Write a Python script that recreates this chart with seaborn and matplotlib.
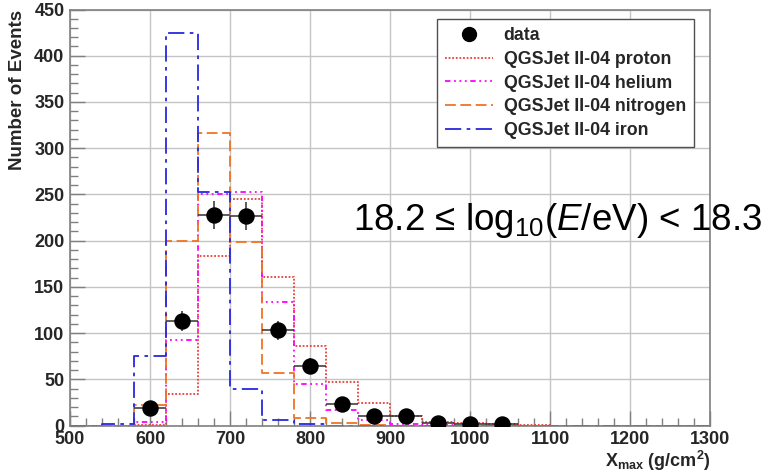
import numpy as np
import matplotlib
matplotlib.use("Agg")
import matplotlib.pyplot as plt
from matplotlib.ticker import MultipleLocator
from matplotlib.lines import Line2D
import seaborn as sns

# ---------------- data ----------------
bin_edges = list(range(500, 1301, 40))
bin_centers = [e + 20 for e in bin_edges[:-1]]

#                 500 540 580  620  660  700  740  780  820 860 900 940 980 1020 1060 ...
proton   = [0, 0, 1, 34, 183, 245, 161, 86, 47, 25, 11, 4, 3, 2, 1, 0, 0, 0, 0, 0]
helium   = [0, 0, 4, 93, 250, 253, 134, 45, 17, 6, 2, 1, 0, 0, 0, 0, 0, 0, 0, 0]
nitrogen = [0, 0, 22, 200, 316, 199, 57, 8, 3, 1, 0, 0, 0, 0, 0, 0, 0, 0, 0, 0]
iron     = [0, 2, 75, 425, 253, 40, 6, 2, 0, 0, 0, 0, 0, 0, 0, 0, 0, 0, 0, 0]

data_x   = [600, 640, 680, 720, 760, 800, 840, 880, 920, 960, 1000, 1040]
data_y   = [19, 113, 228, 227, 103, 65, 24, 11, 10, 3, 2, 2]
data_err = [4.4, 10.6, 15.1, 15.1, 10.1, 8.1, 4.9, 3.3, 3.2, 1.7, 1.4, 1.4]

legend_labels = ["data", "QGSJet II-04 proton", "QGSJet II-04 helium",
                 "QGSJet II-04 nitrogen", "QGSJet II-04 iron"]
annotation = r"18.2 ≤ log$_{10}$($E$/eV) < 18.3"
xlabel = r"X$_{\mathbf{max}}$ (g/cm$^{\mathbf{2}}$)"
ylabel = "Number of Events"

# ---------------- style ----------------
sns.set_theme(style="white")
plt.rcParams["font.family"] = ["Liberation Sans", "DejaVu Sans"]
plt.rcParams["mathtext.fontset"] = "custom"
plt.rcParams["mathtext.rm"] = "Liberation Sans"
plt.rcParams["mathtext.it"] = "Liberation Sans:italic"
plt.rcParams["mathtext.bf"] = "Liberation Sans:bold"

fig = plt.figure(figsize=(7.69, 4.75), dpi=100)
ax = fig.add_axes([70 / 769, (475 - 425.7) / 475, 640 / 769, 416.2 / 475])

ax.grid(True, which="major", color="#c4c4c4", linewidth=1.0)
ax.set_axisbelow(True)

series = [
    (proton, "#e8403a", (0, (1, 1)), legend_labels[1]),
    (helium, "#ff00ff", (0, (3, 2, 1, 2, 1, 2, 1, 2)), legend_labels[2]),
    (nitrogen, "#f07424", (0, (6, 2.5)), legend_labels[3]),
    (iron, "#2828e0", (0, (9, 3, 2, 3)), legend_labels[4]),
]
handles = []
for vals, col, ls, lab in series:
    sns.histplot(x=bin_centers, weights=vals, bins=bin_edges, element="step",
                 fill=False, color=col, linestyle=ls, linewidth=1.3, ax=ax)
    handles.append(Line2D([], [], color=col, linestyle=ls, linewidth=1.3))

# data with error bars
ax.errorbar(data_x, data_y, xerr=20, yerr=data_err, fmt="none",
            ecolor="#303030", elinewidth=1.1, capsize=0, zorder=5)
sns.scatterplot(x=data_x, y=data_y, color="black", s=140, edgecolor="black",
                linewidth=0, ax=ax, zorder=6)
data_handle = Line2D([], [], marker="o", color="black", linestyle="none",
                     markersize=10)

ax.set_xlim(500, 1300)
ax.set_ylim(0, 450)
ax.xaxis.set_major_locator(MultipleLocator(100))
ax.xaxis.set_minor_locator(MultipleLocator(20))
ax.yaxis.set_major_locator(MultipleLocator(50))
ax.yaxis.set_minor_locator(MultipleLocator(10))
ax.tick_params(which="both", direction="in", color="#808080", bottom=True,
               left=True, top=False, right=False)
ax.tick_params(which="major", length=11, width=1, labelsize=13, pad=4)
ax.tick_params(which="minor", length=5.5, width=1)
for lab in ax.get_xticklabels() + ax.get_yticklabels():
    lab.set_fontweight("bold")
for s in ax.spines.values():
    s.set_color("#808080")
    s.set_linewidth(1.2)

ax.set_xlabel("")
ax.set_ylabel("")
fig.text(711 / 769, 1 - 461 / 475, xlabel, ha="right", va="center",
         fontsize=13, fontweight="bold")
fig.text(18 / 769, 1 - 10 / 475, ylabel, rotation=90, ha="center", va="top",
         fontsize=13.5, fontweight="bold")

ax.text(353 / 769, 1 - 230 / 475, annotation, transform=fig.transFigure,
        ha="left", va="baseline", fontsize=26.5, color="black")

leg = fig.legend([data_handle] + handles, legend_labels, loc="upper left",
                 bbox_to_anchor=(437 / 769, 1 - 19 / 475), borderaxespad=0,
                 frameon=True, fancybox=False, shadow=False, handlelength=2.7,
                 labelspacing=0.38, borderpad=0.45, handletextpad=0.6,
                 prop={"weight": "bold", "size": 12.8})
leg.get_frame().set_edgecolor("#505050")
leg.get_frame().set_linewidth(1.0)
leg.get_frame().set_alpha(1.0)

fig.savefig("out.png", dpi=100)
